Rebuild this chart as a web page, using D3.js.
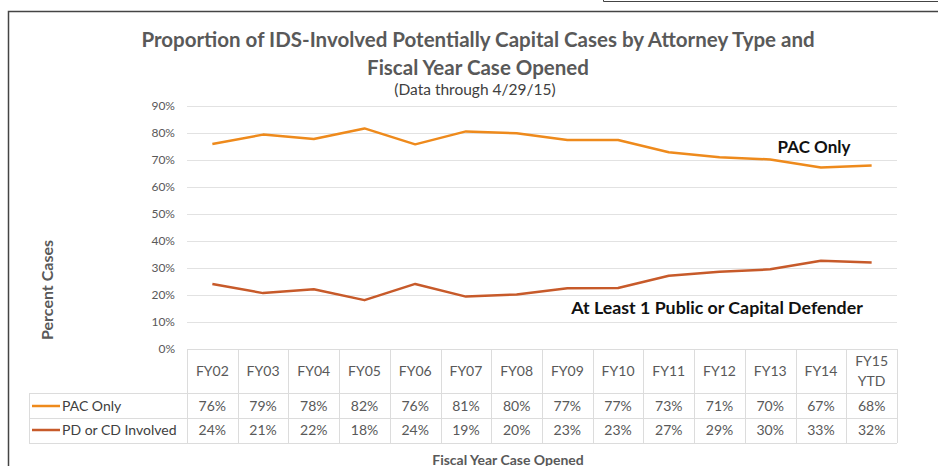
<!DOCTYPE html>
<meta charset="utf-8">
<script src="https://d3js.org/d3.v7.min.js"></script>
<style>
  body { margin: 0; background: #fff; }
  svg text { font-family: Lato, "Open Sans", sans-serif; }
</style>
<div id="chart"></div>
<script>

// categories and series values (percent)
var years = ["FY02","FY03","FY04","FY05","FY06","FY07","FY08","FY09","FY10","FY11","FY12","FY13","FY14","FY15 YTD"];
var pacOnly = [75.9, 79.4, 77.8, 81.7, 75.8, 80.6, 79.9, 77.4, 77.4, 72.9, 71.0, 70.2, 67.2, 68.0];
var pdInvolved = [24.1, 20.7, 22.1, 18.1, 24.1, 19.4, 20.2, 22.5, 22.6, 27.1, 28.6, 29.5, 32.7, 32.0];
var pacLabels = ["76%","79%","78%","82%","76%","81%","80%","77%","77%","73%","71%","70%","67%","68%"];
var pdLabels = ["24%","21%","22%","18%","24%","19%","20%","23%","23%","27%","29%","30%","33%","32%"];
var yTicks = [0, 10, 20, 30, 40, 50, 60, 70, 80, 90];

var W = 938, H = 466;
var plotLeft = 187, plotRight = 897, plotTop = 106, plotBottom = 349;

var svg = d3.select("#chart").append("svg")
  .attr("width", W).attr("height", H);

// frame
svg.append("path").attr("d", "M8.5,466V11.5H938").attr("fill", "none")
  .attr("stroke", "#444").attr("stroke-width", 1.5);
svg.append("path").attr("d", "M603.5,0V1.5H938").attr("fill", "none")
  .attr("stroke", "#444").attr("stroke-width", 1);

var x = d3.scaleBand().domain(years).range([plotLeft, plotRight]);
var y = d3.scaleLinear().domain([0, 90]).range([plotBottom, plotTop]);

// gridlines
svg.append("g").selectAll("line").data(yTicks.slice(1)).join("line")
  .attr("x1", plotLeft).attr("x2", plotRight)
  .attr("y1", d => Math.round(y(d)) + 0.5).attr("y2", d => Math.round(y(d)) + 0.5)
  .attr("stroke", "#e2e2e2");

// y axis labels
var yAxis = svg.append("g").attr("transform", "translate(" + (plotLeft - 12) + ",0)")
  .call(d3.axisLeft(y).tickValues(yTicks).tickFormat(d => d + "%").tickSize(0).tickPadding(0));
yAxis.select(".domain").remove();
yAxis.selectAll("text").attr("fill", "#595959").style("font-size", "12px")
  .style("font-family", "Lato, sans-serif");

// lines
var line = d3.line().x((d, i) => x(years[i]) + x.bandwidth() / 2).y(d => y(d));
svg.append("path").datum(pacOnly).attr("d", line).attr("fill", "none")
  .attr("stroke", "#EE8A1C").attr("stroke-width", 2.5).attr("stroke-linejoin", "round");
svg.append("path").datum(pdInvolved).attr("d", line).attr("fill", "none")
  .attr("stroke", "#C75A2A").attr("stroke-width", 2.5).attr("stroke-linejoin", "round");

// in-plot labels
svg.append("text").attr("x", 814).attr("y", 153).attr("text-anchor", "middle")
  .attr("fill", "#111").style("font-weight", "bold").style("font-size", "17px").text("PAC Only");
svg.append("text").attr("x", 717).attr("y", 314).attr("text-anchor", "middle")
  .attr("fill", "#111").style("font-weight", "bold").style("font-size", "17.8px")
  .text("At Least 1 Public or Capital Defender");

// data table
var rowY = [349, 393, 418, 443];
var grid = "#dcdcdc";
var tbl = svg.append("g").attr("stroke", grid).attr("fill", "none");
tbl.append("line").attr("x1", plotLeft).attr("x2", plotRight).attr("y1", rowY[0] + 0.5).attr("y2", rowY[0] + 0.5);
[1, 2, 3].forEach(function(r) {
  tbl.append("line").attr("x1", 29).attr("x2", plotRight).attr("y1", rowY[r] + 0.5).attr("y2", rowY[r] + 0.5);
});
tbl.append("line").attr("x1", 29.5).attr("x2", 29.5).attr("y1", rowY[1]).attr("y2", rowY[3]);
years.forEach(function(d) {
  var xx = Math.round(x(d)) + 0.5;
  tbl.append("line").attr("x1", xx).attr("x2", xx).attr("y1", rowY[0]).attr("y2", rowY[3]);
});
tbl.append("line").attr("x1", plotRight + 0.5).attr("x2", plotRight + 0.5).attr("y1", rowY[0]).attr("y2", rowY[3]);

var cellFont = "14px";
// header
years.forEach(function(d) {
  var cx = x(d) + x.bandwidth() / 2;
  var parts = d.split(" ");
  var t = svg.append("text").attr("text-anchor", "middle").attr("fill", "#595959").style("font-size", cellFont);
  if (parts.length === 1) {
    t.attr("x", cx).attr("y", 376).text(d);
  } else {
    t.append("tspan").attr("x", cx).attr("y", 366).text(parts[0]);
    t.append("tspan").attr("x", cx).attr("y", 386).text(parts[1]);
  }
});
// values
[[pacLabels, 411], [pdLabels, 435]].forEach(function(r) {
  svg.append("g").selectAll("text").data(r[0]).join("text")
    .attr("x", (d, i) => x(years[i]) + x.bandwidth() / 2).attr("y", r[1])
    .attr("text-anchor", "middle").attr("fill", "#595959").style("font-size", cellFont)
    .text(d => d);
});
// legend keys
[["PAC Only", "#EE8A1C", 406], ["PD or CD Involved", "#C75A2A", 430]].forEach(function(k) {
  svg.append("line").attr("x1", 32).attr("x2", 60).attr("y1", k[2]).attr("y2", k[2])
    .attr("stroke", k[1]).attr("stroke-width", 2.5);
  svg.append("text").attr("x", 62).attr("y", k[2] + 5).attr("fill", "#404040")
    .style("font-size", cellFont).text(k[0]);
});

// titles
svg.append("text").attr("x", 478).attr("y", 47).attr("text-anchor", "middle")
  .attr("fill", "#595959").style("font-weight", "bold").style("font-size", "20.5px")
  .text("Proportion of IDS-Involved Potentially Capital Cases by Attorney Type and");
svg.append("text").attr("x", 478).attr("y", 75).attr("text-anchor", "middle")
  .attr("fill", "#595959").style("font-weight", "bold").style("font-size", "20.5px")
  .text("Fiscal Year Case Opened");
svg.append("text").attr("x", 475).attr("y", 95).attr("text-anchor", "middle")
  .attr("fill", "#404040").style("font-size", "15.5px").text("(Data through 4/29/15)");

// axis titles
svg.append("text").attr("transform", "translate(53,290) rotate(-90)").attr("text-anchor", "middle")
  .attr("fill", "#595959").style("font-weight", "bold").style("font-size", "16px").text("Percent Cases");
svg.append("text").attr("x", 508).attr("y", 465).attr("text-anchor", "middle")
  .attr("fill", "#595959").style("font-weight", "bold").style("font-size", "14px").text("Fiscal Year Case Opened");

</script>
